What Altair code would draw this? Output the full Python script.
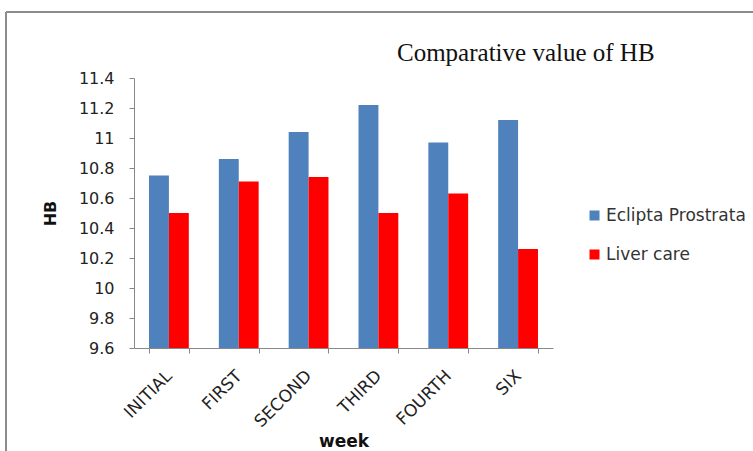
import altair as alt
import pandas as pd

weeks = ["INITIAL", "FIRST", "SECOND", "THIRD", "FOURTH", "SIX"]
eclipta = [10.75, 10.86, 11.04, 11.22, 10.97, 11.12]
liver = [10.50, 10.71, 10.74, 10.50, 10.63, 10.26]
series = ["Eclipta Prostrata", "Liver care"]
colors = ["#4F81BD", "#FF0000"]
y_ticks = [9.6, 9.8, 10.0, 10.2, 10.4, 10.6, 10.8, 11.0, 11.2, 11.4]
title_text = ["Comparative value of HB"]

rows = []
for w, a, b in zip(weeks, eclipta, liver):
    rows.append({"week": w, "series": series[0], "HB": a})
    rows.append({"week": w, "series": series[1], "HB": b})
df = pd.DataFrame(rows)

W, H = 419, 270
LEFT, TOP = 134, 78

bars = alt.Chart(df).mark_bar().encode(
    x=alt.X("week:N", sort=weeks,
            scale=alt.Scale(paddingInner=0.43, paddingOuter=0.215),
            axis=alt.Axis(title="week", labelAngle=-45, labelAlign="right",
                          labelBaseline="middle", labelFont="DejaVu Sans",
                          labelFontSize=17, labelColor="#222222",
                          labelPadding=20, tickBand="extent", tickSize=5,
                          tickColor="#888888", domainColor="#888888",
                          titleFont="DejaVu Sans", titleFontSize=17,
                          titleFontWeight="bold", titleColor="#111111",
                          titlePadding=4)),
    xOffset=alt.XOffset("series:N", sort=series),
    y=alt.Y("HB:Q", scale=alt.Scale(domain=[9.6, 11.4], zero=False, nice=False),
            axis=alt.Axis(title="HB", values=y_ticks, format="~g",
                          labelFont="DejaVu Sans", labelFontSize=16,
                          labelColor="#222222", labelPadding=15, tickSize=5,
                          tickColor="#888888", domainColor="#888888",
                          titleFont="DejaVu Sans", titleFontSize=16,
                          titleFontWeight="bold", titleColor="#111111",
                          titlePadding=20, grid=False)),
    y2=alt.datum(9.6),
    color=alt.Color("series:N", sort=series,
                    scale=alt.Scale(domain=series, range=colors),
                    legend=alt.Legend(title=None, orient="none",
                                      legendX=452, legendY=129,
                                      symbolType="square", symbolSize=100,
                                      symbolStrokeWidth=0,
                                      labelFont="DejaVu Sans", labelFontSize=17,
                                      labelColor="#333333", rowPadding=21,
                                      labelOffset=3)),
)

title = alt.Chart(pd.DataFrame({"t": title_text})).mark_text(
    font="Liberation Serif", fontSize=25, color="#111111",
    align="left", baseline="alphabetic",
).encode(text="t:N", x=alt.value(397 - LEFT), y=alt.value(61 - TOP))

border_left = alt.Chart(df).mark_rule(color="#8c8c8c", strokeWidth=2).encode(
    x=alt.value(6 - LEFT), y=alt.value(12 - TOP), y2=alt.value(460 - TOP))
border_top = alt.Chart(df).mark_rule(color="#8c8c8c", strokeWidth=2).encode(
    x=alt.value(6 - LEFT), x2=alt.value(760 - LEFT), y=alt.value(12 - TOP))

chart = alt.layer(bars, title, border_left, border_top).properties(
    width=W, height=H,
    background="white",
    autosize=alt.AutoSizeParams(type="none"),
    padding={"left": LEFT, "top": TOP, "right": 753 - LEFT - W, "bottom": 451 - TOP - H},
).configure_view(stroke=None, strokeWidth=0)

chart.save("out.html", embed_options={"renderer": "svg", "actions": False})
